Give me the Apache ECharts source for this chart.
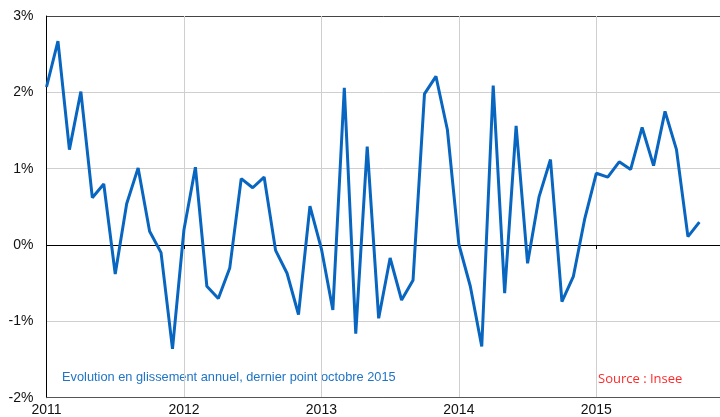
<!DOCTYPE html>
<html>
<head>
<meta charset="utf-8">
<script src="https://cdn.jsdelivr.net/npm/echarts@6/dist/echarts.min.js"></script>
<style>
  html, body { margin: 0; padding: 0; background: #fff; }
  #chart { width: 720px; height: 417px; }
</style>
</head>
<body>
<div id="chart"></div>
<script>
// monthly year-on-year change, Jan 2011 .. Oct 2015
var startYear = 2011;
var values = [
    2.07, 2.67, 1.25, 2.01, 0.62, 0.80, -0.38, 0.54, 1.01, 0.18, -0.10, -1.36,
    0.20, 1.02, -0.54, -0.70, -0.30, 0.87, 0.75, 0.89, -0.07, -0.37, -0.91, 0.51,
    -0.05, -0.85, 2.06, -1.16, 1.29, -0.96, -0.17, -0.72, -0.46, 1.98, 2.21, 1.51,
    0.01, -0.54, -1.33, 2.09, -0.63, 1.56, -0.24, 0.63, 1.12, -0.74, -0.41, 0.35,
    0.94, 0.89, 1.09, 0.99, 1.54, 1.04, 1.75, 1.25, 0.11, 0.30
];
var yTicks = [-2, -1, 0, 1, 2, 3];
var note = 'Evolution en glissement annuel, dernier point octobre 2015';
var source = 'Source : Insee';

var points = values.map(function(v, i) { return [i, v]; });

var chart = echarts.init(document.getElementById('chart'), null, { renderer: 'canvas' });
chart.setOption({
    animation: false,
    grid: { left: 46.5, right: 0, top: 16, bottom: 19.3, containLabel: false },
    xAxis: [{
        type: 'value', min: 0, max: 58.8, interval: 12,
        axisLine: { onZero: false, lineStyle: { color: '#555', width: 1 } },
        axisTick: { show: false },
        axisLabel: {
            color: '#111', fontSize: 14, fontFamily: 'Liberation Sans, Arial', margin: 5,
            showMaxLabel: false,
            formatter: function(v) { return v % 12 === 0 ? String(startYear + v / 12) : ''; }
        },
        splitLine: { show: true, showMinLine: false, showMaxLine: false, lineStyle: { color: '#cfcfcf', width: 1 } }
    }, {
        type: 'value', position: 'top', min: 0, max: 58.8, interval: 12,
        axisLine: { show: true, onZero: true, lineStyle: { color: '#000', width: 1 } },
        axisTick: { show: true, inside: true, length: 4, lineStyle: { color: '#000' } },
        axisLabel: { show: false },
        splitLine: { show: false }
    }],
    yAxis: {
        type: 'value', min: yTicks[0], max: yTicks[yTicks.length - 1], interval: 1,
        axisLine: { show: true, lineStyle: { color: '#000', width: 1 } },
        axisTick: { show: false },
        axisLabel: {
            color: '#111', fontSize: 14, fontFamily: 'Liberation Sans, Arial', margin: 13,
            formatter: '{value}%'
        },
        splitLine: {
            show: true,
            lineStyle: { color: ['#555', '#cfcfcf', '#000', '#cfcfcf', '#cfcfcf', '#444'], width: 1 }
        }
    },
    series: [{
        type: 'line', xAxisIndex: 0, data: points,
        showSymbol: false, symbol: 'none',
        lineStyle: { color: '#0866c1', width: 3 },
        z: 5
    }],
    graphic: [{
        type: 'text', left: 62, top: 371,
        style: { text: note, fill: '#1f74c6', font: '12.8px "Liberation Sans", Arial' }
    }, {
        type: 'text', left: 598, top: 373,
        style: { text: source, fill: '#ff2a2a', font: '13px "Open Sans", "Liberation Sans", sans-serif' }
    }]
});
window.addEventListener('resize', function() { chart.resize(); });
</script>
</body>
</html>
